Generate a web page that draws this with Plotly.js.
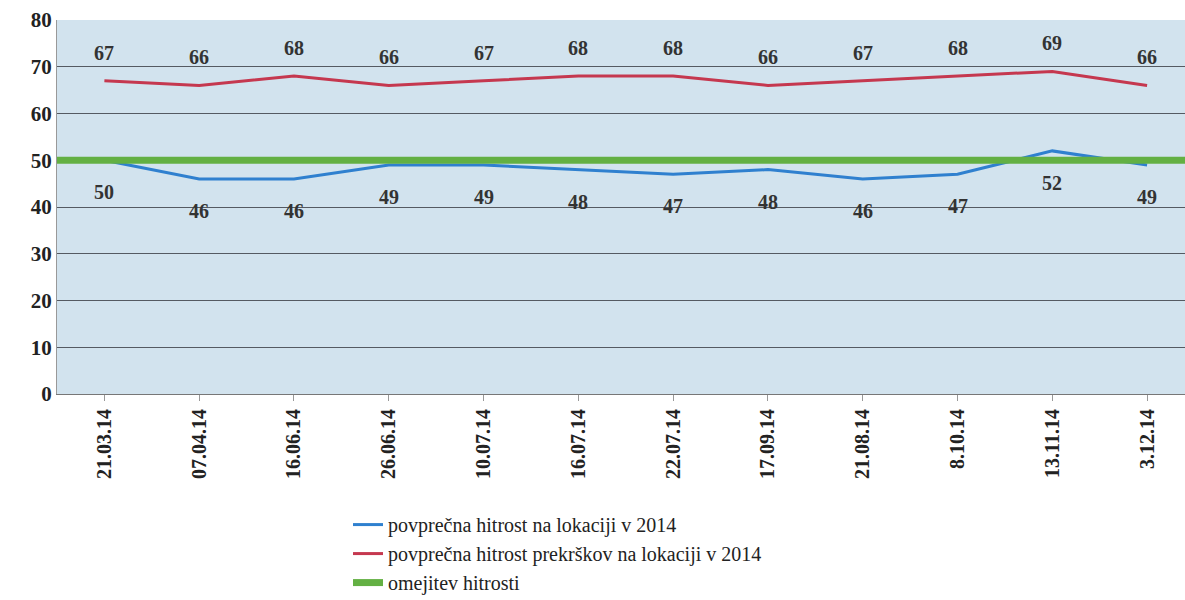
<!DOCTYPE html>
<html>
<head>
<meta charset="utf-8">
<script src="https://cdn.plot.ly/plotly-3.0.1.min.js"></script>
<style>html,body{margin:0;padding:0;background:#fff;}#chart{width:1185px;height:600px;}</style>
</head>
<body>
<div id="chart"></div>
<script>
const dates = ["21.03.14","07.04.14","16.06.14","26.06.14","10.07.14","16.07.14","22.07.14","17.09.14","21.08.14","8.10.14","13.11.14","3.12.14"];
const avgSpeed = [50,46,46,49,49,48,47,48,46,47,52,49];
const avgViolationSpeed = [67,66,68,66,67,68,68,66,67,68,69,66];
const speedLimit = 50;
const seriesNames = ["povprečna hitrost na lokaciji v 2014","povprečna hitrost prekrškov na lokaciji v 2014","omejitev hitrosti"];

const idx = dates.map((d,i)=>i);
const serif = "Liberation Serif";

const traces = [
  {x: idx, y: avgSpeed, name: seriesNames[0], mode: "lines", line: {color: "#2f80cf", width: 3}},
  {x: idx, y: avgViolationSpeed, name: seriesNames[1], mode: "lines", line: {color: "#c5384f", width: 3}},
  {x: [-0.5, dates.length - 0.5], y: [speedLimit, speedLimit], name: seriesNames[2], mode: "lines", line: {color: "#63b043", width: 7}}
];

const annotations = [];
avgViolationSpeed.forEach((v,i)=>annotations.push({x:i,y:v,text:String(v),showarrow:false,yshift:28,font:{family:serif,size:20,color:"#333",weight:"bold"}}));
avgSpeed.forEach((v,i)=>annotations.push({x:i,y:v,text:String(v),showarrow:false,yshift:-32,font:{family:serif,size:20,color:"#333",weight:"bold"}}));

const layout = {
  width: 1185, height: 600,
  margin: {l: 57, r: 0, t: 20, b: 206, autoexpand: false},
  paper_bgcolor: "#ffffff",
  plot_bgcolor: "#d2e3ee",
  showlegend: true,
  legend: {x: 0.258, y: -0.297, xanchor: "left", yanchor: "top", font: {family: serif, size: 20, color: "#222"}, bgcolor: "rgba(0,0,0,0)", tracegroupgap: 0},
  xaxis: {
    range: [-0.5, 11.4], tickvals: idx, ticktext: dates, tickangle: -90,
    showgrid: false, zeroline: false, showline: true, linecolor: "#777",
    ticks: "outside", ticklen: 6, tickcolor: "#999",
    tickfont: {family: serif, size: 20, color: "#222", weight: "bold"}
  },
  yaxis: {
    range: [0, 80], dtick: 10, gridcolor: "#555a62", gridwidth: 1,
    zeroline: false, showline: true, linecolor: "#999", mirror: false,
    tickfont: {family: serif, size: 21, color: "#222", weight: "bold"}
  },
  annotations: annotations
};

Plotly.newPlot("chart", traces, layout, {displayModeBar: false, staticPlot: true});
</script>
</body>
</html>
